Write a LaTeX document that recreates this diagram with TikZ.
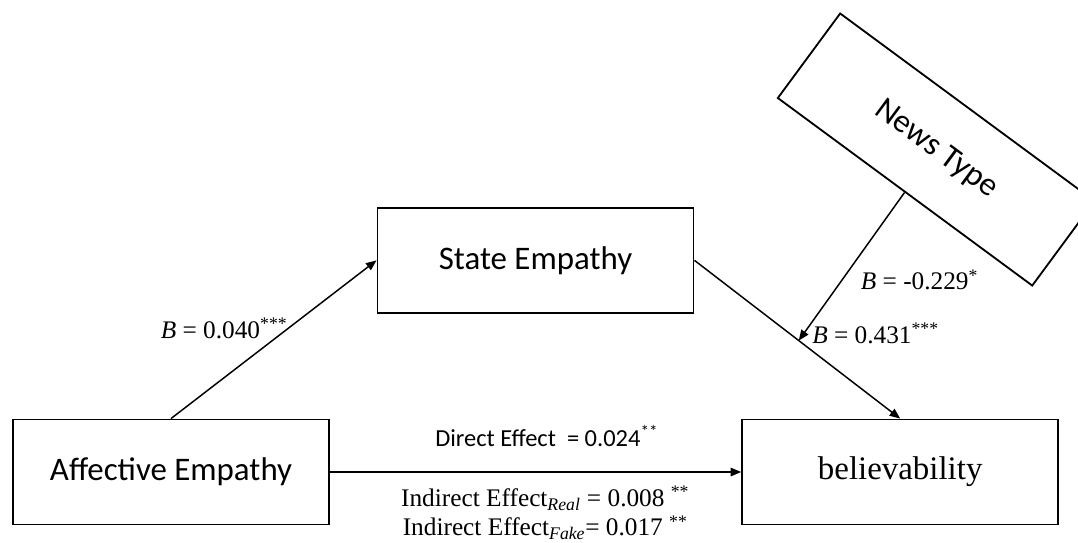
\documentclass[tikz,border=0pt]{standalone}
\usepackage{fontspec}
\setmainfont{Liberation Serif}
\newfontfamily\calibri{Carlito}
\usepackage{tikz}
\usetikzlibrary{arrows.meta, positioning, calc}

\tikzset{
  varbox/.style={draw, line width=1.3pt, minimum width=7.9cm, minimum height=2.625cm,
    inner sep=0pt, font=\calibri\fontsize{23.4}{28}\selectfont},
  lbl/.style={inner sep=0pt, font=\fontsize{18}{21}\selectfont},
  sflbl/.style={inner sep=0pt, font=\calibri\fontsize{17.4}{21}\selectfont},
  path/.style={->, line width=1.05pt}
}

\begin{document}
\begin{tikzpicture}[x=0.025cm, y=-0.025cm, node distance=18.225cm, on grid,
    >={Triangle[length=7.5pt, width=6pt]}]
  \useasboundingbox (0,0) rectangle (1078,542);
  \clip (0,0) rectangle (1078,542);

  \node[varbox] (ae) at (171,472) {Affective Empathy};
  \node[varbox, font=\rmfamily\fontsize{23.4}{28}\selectfont] (bel) [right=of ae] {believability};
  \node[varbox] (se) [above right=5.29cm and 9.11cm of ae] {State Empathy};
  \node[varbox, rotate=-36.4] (news) [above right=8.06cm and 0.9cm of bel] {News Type};

  % paths
  \draw[path] (ae.north) -- (se.west)
    node[lbl, pos=0.57, anchor=east] (b040) {\textit{B} = 0.040\textsuperscript{***}};
  \draw[path] (se.east) -- (bel.north) coordinate[pos=0.507] (mod);
  \draw[path] (news.south) -- (mod)
    node[lbl, pos=0.59, anchor=west, xshift=0.45cm] (b229) {\textit{B} = -0.229\textsuperscript{*}};
  \node[lbl, anchor=west] (b431) at ([shift={(0.33cm,0.18cm)}]mod) {\textit{B} = 0.431\textsuperscript{***}};

  \draw[path] (ae.east) -- (bel.west)
    node[sflbl, midway, above=0.62cm, xshift=0.28cm] (direct) {Direct Effect\ \ = 0.024\textsuperscript{**}}
    node[lbl, midway, below=0.33cm, xshift=0.24cm, align=center] (indirect)
      {Indirect Effect\textsubscript{\itshape Real} = 0.008 \textsuperscript{**}\\
       Indirect Effect\textsubscript{\itshape Fake}= 0.017 \textsuperscript{**}};
\end{tikzpicture}
\end{document}
